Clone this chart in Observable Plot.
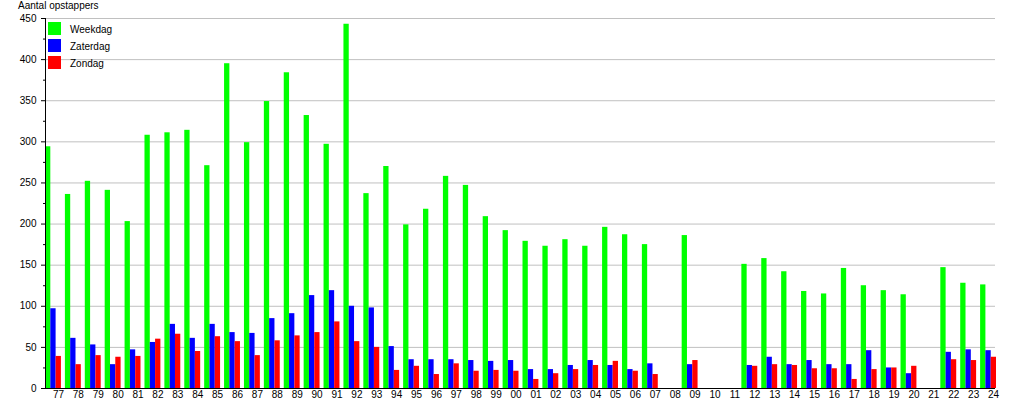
<!DOCTYPE html>
<html>
<head>
<meta charset="utf-8">
<script src="https://cdn.jsdelivr.net/npm/d3@7"></script>
<script src="https://cdn.jsdelivr.net/npm/@observablehq/plot@0.6"></script>
<style>
  html, body { margin: 0; padding: 0; background: #fff; overflow: hidden; }
  #wrap { position: relative; width: 1015px; height: 400px; font-family: "Liberation Sans", Arial, sans-serif; font-size: 10px; color: #000; }
  #title { position: absolute; left: 18px; top: 0; height: 12px; line-height: 12px; white-space: nowrap; }
  #legend { position: absolute; left: 48px; top: 22px; }
  .row { display: flex; align-items: flex-start; height: 17px; }
  .sw { width: 13px; height: 13px; margin-right: 9px; }
  .lab { line-height: 13px; padding-top: 1px; white-space: nowrap; }
  svg { display: block; }
</style>
</head>
<body>
<div id="wrap">
  <div id="chart"></div>
  <div id="title">Aantal opstappers</div>
  <div id="legend"></div>
</div>
<script>
const years = ["77","78","79","80","81","82","83","84","85","86","87","88","89","90","91","92","93","94","95","96","97","98","99",
  "00","01","02","03","04","05","06","07","08","09","10","11","12","13","14","15","16","17","18","19","20","21","22","23","24"];
const seriesNames = ["Weekdag", "Zaterdag", "Zondag"];
const seriesColors = ["#00ff00", "#0000ff", "#ff0000"];
const weekdag = [294,236,252,241,203,308,311,314,271,395,299,349,384,332,297,443,237,270,199,218,258,247,209,
  192,179,173,181,173,196,187,175,null,186,null,null,151,158,142,118,115,146,125,119,114,null,147,128,126];
const zaterdag = [97,61,53,29,47,56,78,61,78,68,67,85,91,113,119,100,98,51,35,35,35,34,33,
  34,23,23,28,34,28,23,30,null,29,null,null,28,38,29,34,29,29,46,25,18,null,44,47,46];
const zondag = [39,29,40,38,39,60,66,45,63,57,40,58,64,68,81,57,50,22,27,17,30,21,22,
  21,11,18,23,28,33,21,17,null,34,null,null,27,29,28,24,24,11,23,25,27,null,35,34,38];
const yTicks = d3.range(0, 451, 50);
const yMinorTicks = d3.range(25, 450, 50);

const seriesValues = [weekdag, zaterdag, zondag];
const tables = seriesValues.map((vals, s) =>
  years.map((year, i) => ({year, series: seriesNames[s], value: vals[i]})).filter(d => d.value != null));

const W = 1015, mL = 45, mR = 15;
const bw = (W - mL - mR) / years.length;
const barW = 5.3;

const plot = Plot.plot({
  width: W,
  height: 400,
  marginTop: 18,
  marginBottom: 12,
  marginLeft: mL,
  marginRight: mR,
  style: {fontFamily: "'Liberation Sans', Arial, sans-serif", fontSize: "10px", color: "#000", background: "#fff"},
  x: {domain: years, padding: 0, label: null},
  y: {domain: [0, 450], label: null},
  marks: [
    Plot.ruleY(yTicks.filter(d => d > 0), {stroke: "#c0c0c0", strokeWidth: 1, insetRight: 5}),
    ...tables.map((t, s) => Plot.barY(t, {
      x: "year", y: "value", fill: seriesColors[s],
      insetLeft: s * barW, insetRight: bw - (s + 1) * barW
    })),
    Plot.ruleY([0], {stroke: "#000", insetRight: 5}),
    Plot.frame({anchor: "left", stroke: "#000"}),
    Plot.axisY({ticks: yTicks, tickSize: 4, tickPadding: 5, label: null}),
    Plot.axisY({ticks: yMinorTicks, tickSize: 2, tickFormat: () => "", label: null}),
    Plot.axisX({tickSize: 0, tickPadding: 2.5, dx: 3, label: null})
  ]
});
document.getElementById("chart").appendChild(plot);

const legend = document.getElementById("legend");
seriesNames.forEach((name, i) => {
  const row = document.createElement("div");
  row.className = "row";
  const sw = document.createElement("div");
  sw.className = "sw";
  sw.style.background = seriesColors[i];
  const lab = document.createElement("div");
  lab.className = "lab";
  lab.textContent = name;
  row.appendChild(sw);
  row.appendChild(lab);
  legend.appendChild(row);
});
</script>
</body>
</html>
